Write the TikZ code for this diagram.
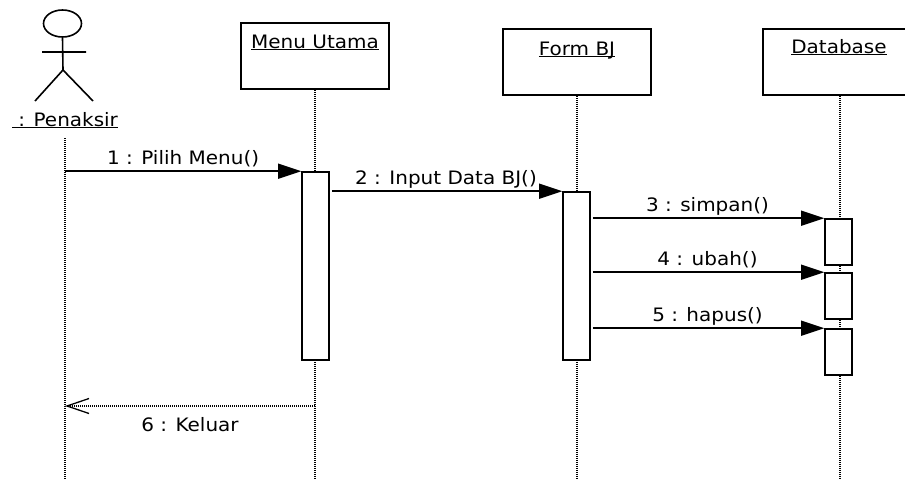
\documentclass[tikz,border=0pt]{standalone}
\usepackage{fontspec}
\setmainfont{DejaVu Sans}[FakeStretch=1.08]
\usetikzlibrary{arrows.meta,shapes.geometric}
\newcommand{\objname}[1]{\underline{\smash{#1}}}
\begin{document}
\begin{tikzpicture}[x=1pt,y=-1pt,
		every node/.style={font=\fontsize{18.5}{22}\selectfont},
		obj/.style={draw,line width=1.6pt,minimum width=148pt,minimum height=66pt,inner sep=0pt},
		act/.style={draw,fill=white,line width=1.6pt,minimum width=27pt,inner sep=0pt},
		life/.style={line width=1.3pt,dash pattern=on 1pt off 1pt},
		msg/.style={line width=1.5pt,-{Triangle[length=23pt,width=15pt]}},
		ret/.style={line width=1.3pt,dash pattern=on 1pt off 1pt,-{Straight Barb[length=22pt,width=15pt]}},
		lbl/.style={midway,anchor=base,yshift=7pt}]
			\useasboundingbox (0,0) rectangle (905,479);
			\clip (0,0) rectangle (905,479);
			\node	(head) at (62.5,23.5) [draw,ellipse,line width=1.6pt,minimum width=38pt,minimum height=27pt,inner sep=0pt] {};
			\coordinate (hip) at (63,70);
			\coordinate (lh) at (42,52);
			\coordinate (rh) at (86,52);
			\coordinate (lf) at (35,101);
			\coordinate (rf) at (93,101);
			\node	(pen) at (65,126) [anchor=base] {\objname{\ : Penaksir}};
			\coordinate (penl) at (65,138);
			\coordinate (bot) at (0,479);
			\node	(menu) at (315,56) [obj] {};
			\node	(form) at (577,62) [obj] {};
			\node	(db) at (840,62) [obj,minimum width=154pt] {};
			\node	(menut) at (315,48) [anchor=base] {\objname{Menu Utama}};
			\node	(formt) at (577,55) [anchor=base] {\objname{Form BJ}};
			\node	(dbt) at (839,53) [anchor=base] {\objname{Database}};
			\draw[line width=1.6pt] (head.south) -- (hip) (lh) -- (rh) (lf) -- (hip) -- (rf);
			\draw[life] (penl) -- (penl |- bot);
			\draw[life] (menu.south) -- (menu.south |- bot);
			\draw[life] (form.south) -- (form.south |- bot);
			\draw[life] (db.south) -- (db.south |- bot);
			\node	(a1) at (315.5,266) [act,minimum height=188pt] {};
			\node	(a2) at (576.5,276) [act,minimum height=168pt] {};
			\node	(a3) at (838.5,242) [act,minimum height=46pt] {};
			\node	(a4) at (838.5,296) [act,minimum height=46pt] {};
			\node	(a5) at (838.5,352) [act,minimum height=46pt] {};
			\coordinate (r6) at (315,406);
			\draw 
			(penl |- a1.north west) edge[msg] node[lbl] {1 : Pilih Menu()} (a1.north west)
			(a1.east |- a2.north west) edge[msg,shorten <=2pt] node[lbl] {2 : Input Data BJ()} (a2.north west)
			(a2.east |- a3.north west) edge[msg,shorten <=2pt] node[lbl] {3 : simpan()} (a3.north west)
			(a2.east |- a4.north west) edge[msg,shorten <=2pt] node[lbl] {4 : ubah()} (a4.north west)
			(a2.east |- a5.north west) edge[msg,shorten <=2pt] node[lbl] {5 : hapus()} (a5.north west)
			(r6) edge[ret] node[midway,anchor=base,yshift=-25pt] {6 : Keluar} (penl |- r6)
			;
\end{tikzpicture}
\end{document}
